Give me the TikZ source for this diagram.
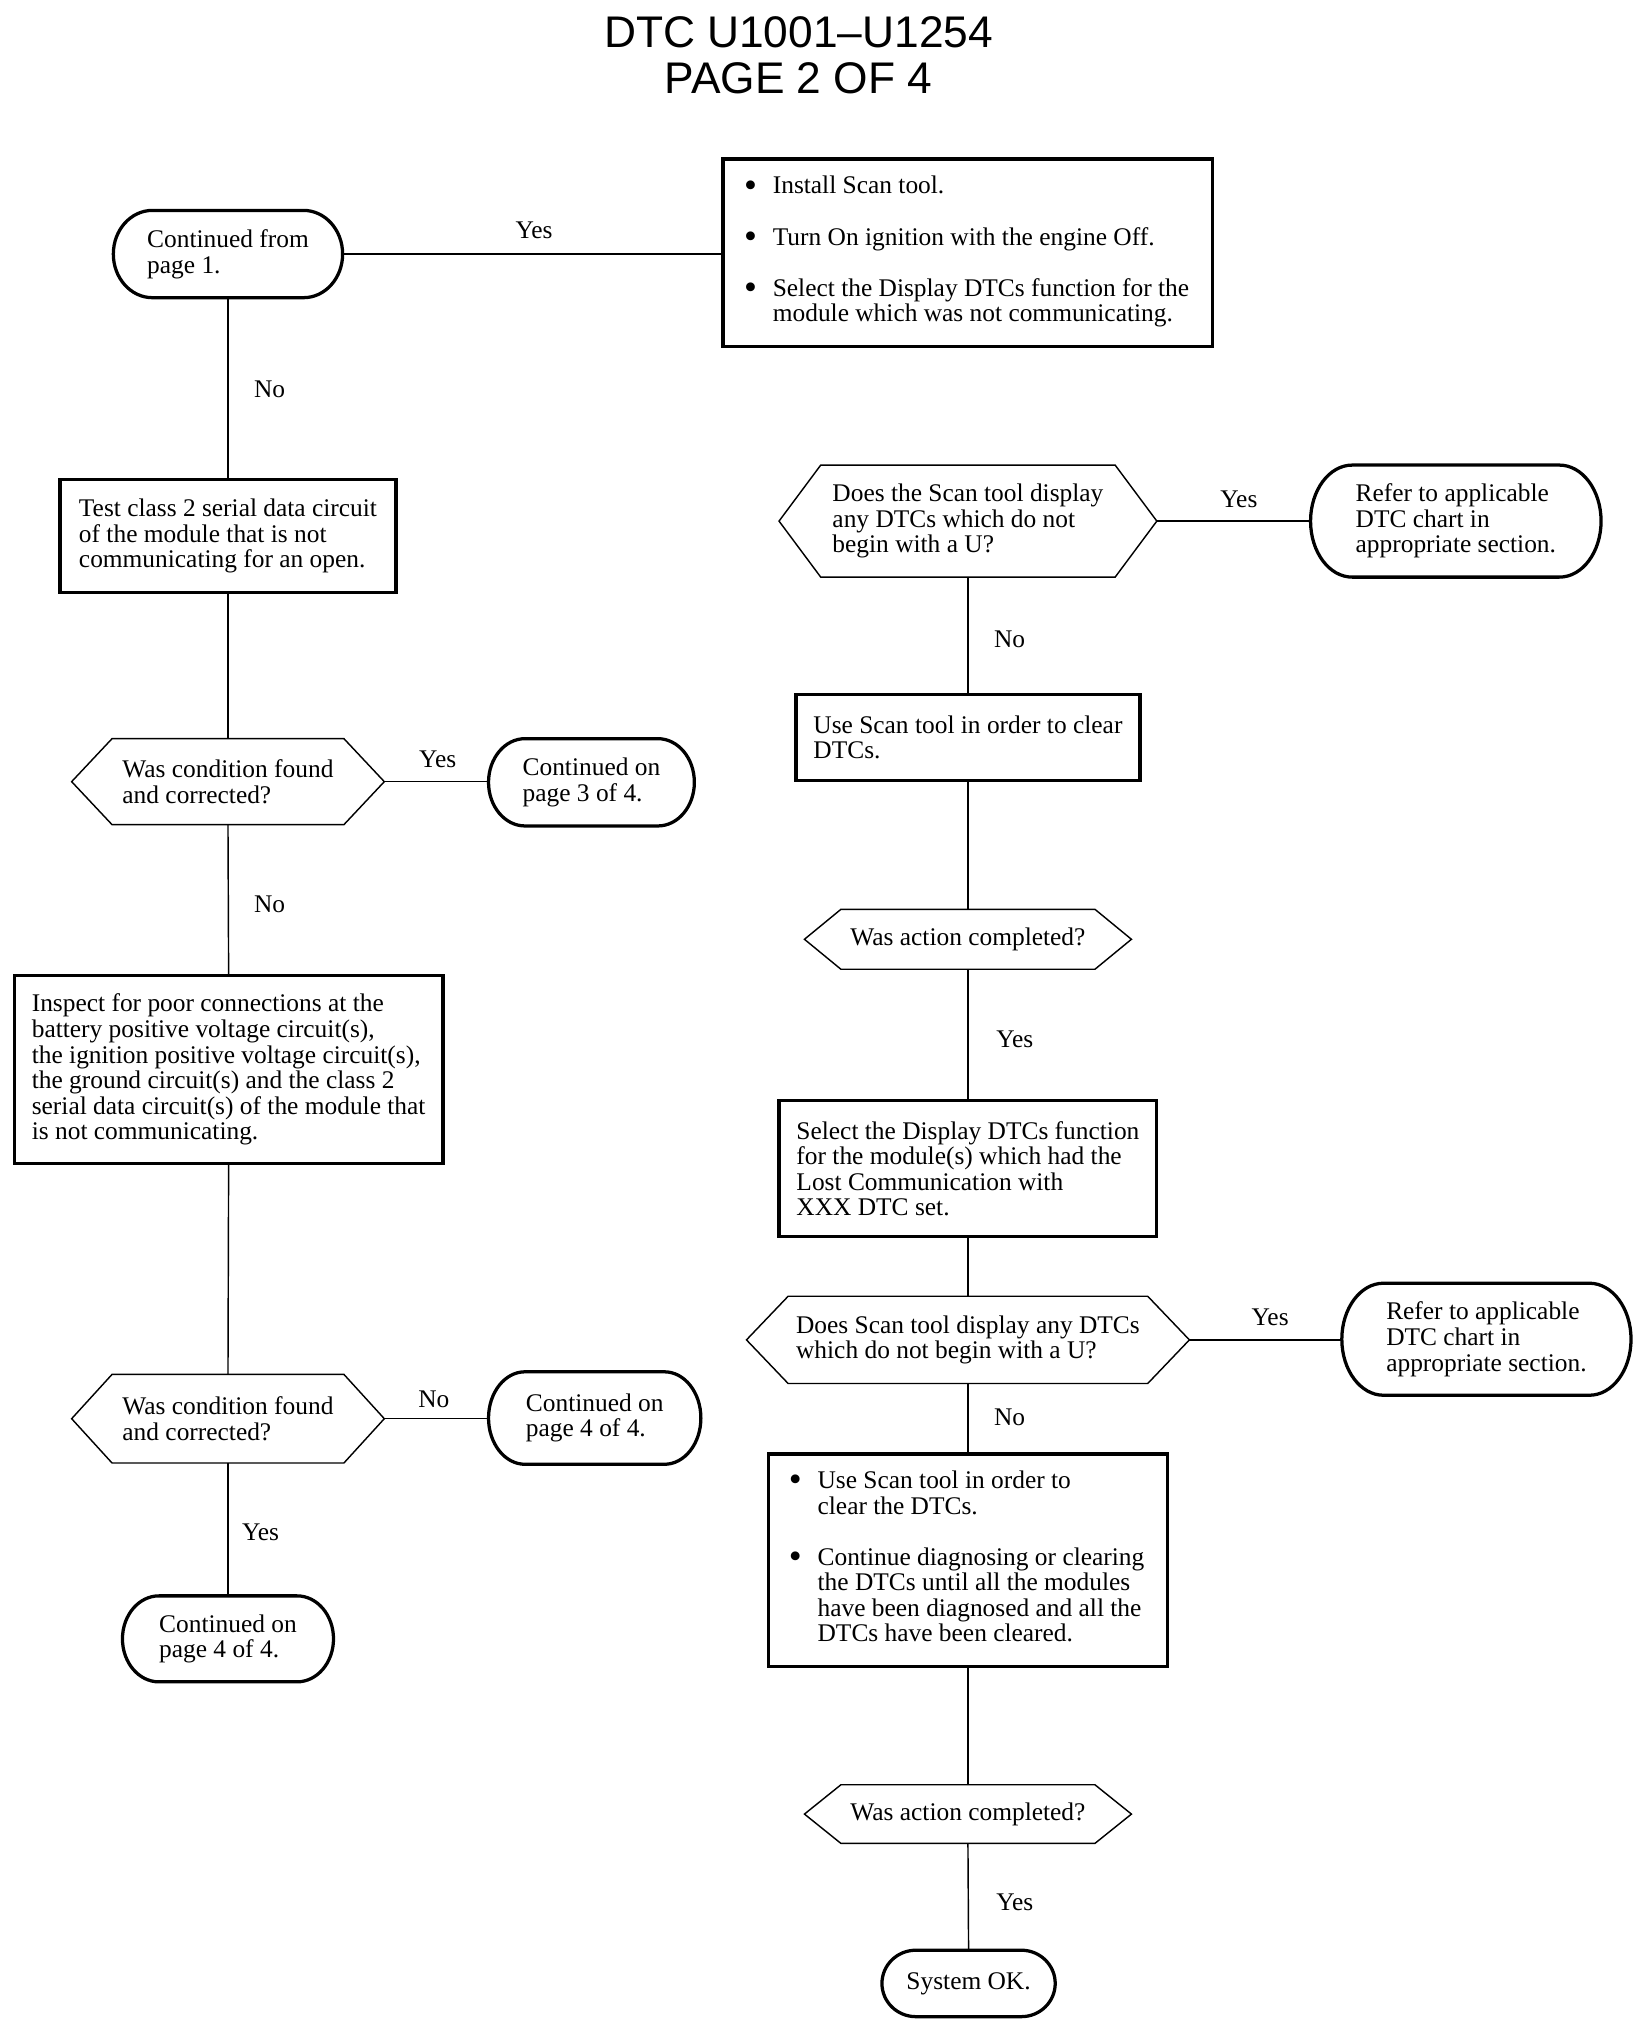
\documentclass[tikz,border=0pt]{standalone}
\usepackage{fontspec}
\usepackage{graphicx}
\setmainfont{Liberation Serif}
\newfontfamily\titlefont{Liberation Sans}
\usetikzlibrary{calc}
\tikzset{
  thickln/.style={line width=2.5pt},
  thinln/.style={line width=1.1pt},
  txt/.style={font=\fontsize{19.5}{19.6}\selectfont, align=left, inner sep=0pt, outer sep=0pt},
  boxn/.style={txt, draw, thickln},
  shapen/.style={txt, draw=none},
  lbl/.style={font=\fontsize{19.5}{19.6}\selectfont, inner sep=0pt},
  titlef/.style={font=\titlefont\fontsize{34}{36}\selectfont, inner sep=0pt},
  conn/.style={thinln}
}
\newcommand\hexa[2]{\draw[thinln] let \p1=(#1.north west), \p2=(#1.south east) in
  (#1.west) -- (\x1+#2,\y1) -- (\x2-#2,\y1) -- (#1.east) -- (\x2-#2,\y2) -- (\x1+#2,\y2) -- cycle;}
\newcommand\stad[2]{\draw[thickln] let \p1=(#1.north west), \p2=(#1.south east), \n1={(\y1-\y2)/2} in
  (\x1+#2,\y1) -- (\x2-#2,\y1) arc[start angle=90,end angle=-90,x radius=#2,y radius=\n1]
  -- (\x1+#2,\y2) arc[start angle=270,end angle=90,x radius=#2,y radius=\n1] -- cycle;}
\newcommand\bul{\makebox[20pt][l]{\hspace{-2pt}\raisebox{-0.12em}{\scalebox{1.45}{\textbullet}}}}
\begin{document}
\begin{tikzpicture}[x=1pt,y=-1pt]
\useasboundingbox (0,0) rectangle (1265,1564.4);
\fill[white] (0,0) rectangle (1265,1564.4);
% title
\node[titlef] (t1) at (613,25) {DTC U1001–U1254};
\node[titlef] (t2) at (613,60) {PAGE 2 OF 4};

% left column
\node[shapen, minimum width=176pt, minimum height=67pt] (A) at (175,195) {Continued from\\page 1.};
\stad{A}{30pt}
\node[boxn, minimum width=376pt, minimum height=144pt] (B) at (743,194) {%
\begin{tabular}{@{}l@{}l@{}}
\bul & Install Scan tool.\\[19.6pt]
\bul & Turn On ignition with the engine Off.\\[19.6pt]
\bul & Select the Display DTCs function for the\\
 & module which was not communicating.
\end{tabular}};
\node[boxn, minimum width=258pt, minimum height=87pt] (C) at (175,411.5) {Test class 2 serial data circuit\\of the module that is not\\communicating for an open.};
\node[shapen, minimum width=240pt, minimum height=66pt] (D) at (175,600) {Was condition found\\and corrected?};
\hexa{D}{31pt}
\node[shapen, minimum width=158pt, minimum height=67pt] (E) at (454,600.5) {Continued on\\page 3 of 4.};
\stad{E}{28pt}
\node[boxn, minimum width=329pt, minimum height=144pt] (F) at (175.5,821) {Inspect for poor connections at the\\battery positive voltage circuit(s),\\the ignition positive voltage circuit(s),\\the ground circuit(s) and the class 2\\serial data circuit(s) of the module that\\is not communicating.};
\node[shapen, minimum width=240pt, minimum height=68pt] (G) at (175,1089) {Was condition found\\and corrected?};
\hexa{G}{31pt}
\node[shapen, minimum width=163pt, minimum height=71pt] (H) at (456.5,1088.5) {Continued on\\page 4 of 4.};
\stad{H}{28pt}
\node[shapen, minimum width=162pt, minimum height=66pt] (I) at (175,1258) {Continued on\\page 4 of 4.};
\stad{I}{28pt}

% right column
\node[shapen, minimum width=290pt, minimum height=86pt] (J) at (743,400) {Does the Scan tool display\\any DTCs which do not\\begin with a U?};
\hexa{J}{32pt}
\node[shapen, minimum width=223pt, minimum height=86pt] (M) at (1117.5,400) {Refer to applicable\\DTC chart in\\appropriate section.};
\stad{M}{32pt}
\node[boxn, minimum width=264pt, minimum height=66pt] (L) at (743,566) {Use Scan tool in order to clear\\DTCs.};
\node[shapen, minimum width=251pt, minimum height=46pt] (K) at (743,721) {Was action completed?};
\hexa{K}{28pt}
\node[boxn, minimum width=290pt, minimum height=104pt] (N) at (743,897) {Select the Display DTCs function\\for the module(s) which had the\\Lost Communication with\\XXX DTC set.};
\node[shapen, minimum width=340pt, minimum height=67pt] (O) at (743,1028.5) {Does Scan tool display any DTCs\\which do not begin with a U?};
\hexa{O}{32pt}
\node[shapen, minimum width=222pt, minimum height=86pt] (P) at (1141,1028) {Refer to applicable\\DTC chart in\\appropriate section.};
\stad{P}{32pt}
\node[boxn, minimum width=306pt, minimum height=163pt] (Q) at (743,1197.5) {%
\begin{tabular}{@{}l@{}l@{}}
\bul & Use Scan tool in order to\\
 & clear the DTCs.\\[19.6pt]
\bul & Continue diagnosing or clearing\\
 & the DTCs until all the modules\\
 & have been diagnosed and all the\\
 & DTCs have been cleared.
\end{tabular}};
\node[shapen, minimum width=251pt, minimum height=45pt] (R) at (743,1392.5) {Was action completed?};
\hexa{R}{28pt}
\node[shapen, minimum width=133pt, minimum height=51pt] (S) at (743.5,1522.5) {System OK.};
\stad{S}{26pt}

% connectors
\draw[conn] (A.east) -- (A.east -| B.west);
\draw[conn] (A.south) -- (C.north);
\draw[conn] (C.south) -- (D.north);
\draw[conn] (D.east) -- (D.east -| E.west);
\draw[conn] (D.south) -- (F.north);
\draw[conn] (F.south) -- (G.north);
\draw[conn] (G.east) -- (G.east -| H.west);
\draw[conn] (G.south) -- (I.north);
\draw[conn] (J.east) -- (J.east -| M.west);
\draw[conn] (J.south) -- (L.north);
\draw[conn] (L.south) -- (K.north);
\draw[conn] (K.south) -- (N.north);
\draw[conn] (N.south) -- (O.north);
\draw[conn] (O.east) -- (O.east -| P.west);
\draw[conn] (O.south) -- (Q.north);
\draw[conn] (Q.south) -- (R.north);
\draw[conn] (R.south) -- (S.north);

% labels
\node[lbl] (l1) at (410,177) {Yes};
\node[lbl] (l2) at (207,299) {No};
\node[lbl] (l3) at (336,583) {Yes};
\node[lbl] (l4) at (207,694) {No};
\node[lbl] (l5) at (333,1074) {No};
\node[lbl] (l6) at (200,1176) {Yes};
\node[lbl] (l7) at (951,383) {Yes};
\node[lbl] (l8) at (775,491) {No};
\node[lbl] (l9) at (779,798) {Yes};
\node[lbl] (l10) at (975,1011) {Yes};
\node[lbl] (l11) at (775,1088) {No};
\node[lbl] (l12) at (779,1460) {Yes};
\end{tikzpicture}
\end{document}
